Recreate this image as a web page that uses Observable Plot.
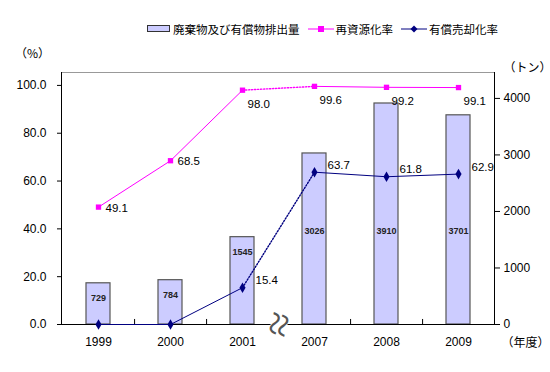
<!DOCTYPE html>
<html><head><meta charset="utf-8">
<script src="https://cdn.jsdelivr.net/npm/d3@7"></script>
<script src="https://cdn.jsdelivr.net/npm/@observablehq/plot@0.6"></script>
<style>
body{margin:0;background:#fff;}
#chart{width:550px;height:372px;position:relative;font-family:"Liberation Sans","Noto Sans CJK JP",sans-serif;}
#legend{position:absolute;top:20px;left:147px;height:18px;display:flex;align-items:center;font-family:"Noto Sans CJK JP",sans-serif;font-size:11.5px;color:#000;white-space:nowrap;}
#legend .item{display:flex;align-items:center;margin-right:8px;}
#legend svg{margin-right:2px;}
#plot{position:absolute;top:44px;left:0;}
</style></head><body>
<div id="chart"><div id="legend"></div><div id="plot"></div></div>
<script>
const years = ["1999","2000","2001","2007","2008","2009"];
const discharge = [729, 784, 1545, 3026, 3910, 3701];
const recycleRate = [49.1, 68.5, 98.0, 99.6, 99.2, 99.1];
const saleRate = [0, 0, 15.4, 63.7, 61.8, 62.9];
const leftTicks = [0, 20, 40, 60, 80, 100];
const rightTicks = [0, 1000, 2000, 3000, 4000];
const seriesNames = ["廃棄物及び有償物排出量", "再資源化率", "有償売却化率"];
const unitLeft = "（%）", unitRight = "（トン）", unitX = "（年度）";

const K = 42.3; // tons per percent (right axis vs left axis)
const rows = years.map((y, i) => ({year: y, t: discharge[i], r: recycleRate[i], s: saleRate[i]}));
const step = 433 / 6;
const magenta = "#ff00ff", navy = "#000080";

// legend
const lg = document.getElementById("legend");
lg.innerHTML = `
<span class="item"><svg width="24" height="8"><rect x="0.5" y="0.5" width="22" height="6" fill="#ccccff" stroke="#333"/></svg>${seriesNames[0]}</span>
<span class="item"><svg width="26" height="8"><line x1="0" x2="26" y1="4" y2="4" stroke="${magenta}"/><rect x="10" y="1" width="6" height="6" fill="${magenta}"/></svg>${seriesNames[1]}</span>
<span class="item"><svg width="26" height="8"><line x1="0" x2="26" y1="4" y2="4" stroke="${navy}"/><path d="M13,0.5L16.5,4L13,7.5L9.5,4Z" fill="${navy}"/></svg>${seriesNames[2]}</span>`;

const seg = (a, b) => rows.slice(a, b + 1);
const dash = "1.3 1.7";

const plot = Plot.plot({
  width: 550, height: 328,
  marginTop: 28, marginBottom: 48, marginLeft: 61, marginRight: 56,
  style: {fontFamily: '"Liberation Sans","Noto Sans CJK JP",sans-serif', fontSize: "12px", color: "#000", background: "#fff", overflow: "visible"},
  x: {type: "band", domain: years, paddingInner: 0, paddingOuter: 0},
  y: {domain: [0, 105.4]},
  marks: [
    Plot.frame({stroke: "#999"}),
    Plot.frame({anchor: "left", stroke: "#000"}),
    Plot.frame({anchor: "right", stroke: "#000"}),
    Plot.barY(rows, {x: "year", y: d => d.t / K, fill: "#ccccff", stroke: "#555", strokeWidth: 1.2, insetLeft: 24, insetRight: 24}),
    Plot.text(rows, {x: "year", y: d => Math.min(d.t - 260, 1650) / K, text: d => String(d.t), fontSize: 9, fontWeight: "bold", fill: "#222"}),
    Plot.ruleY([0], {stroke: "#000"}),
    Plot.ruleX(["1999", "2000", "2007", "2008"], {x: d => d, dx: step / 2, y1: 0, y2: 2.1, stroke: "#000"}),
    Plot.axisY({anchor: "left", ticks: leftTicks, tickFormat: d => d.toFixed(1), tickSize: 4, tickPadding: 11, label: null, fontSize: 12}),
    Plot.axisY({anchor: "right", ticks: rightTicks.map(t => t / K), tickFormat: (v, i) => String(rightTicks[i]), tickSize: 5, tickPadding: 4, label: null, fontSize: 12}),
    Plot.axisX({tickSize: 0, tickPadding: 13, label: null, fontSize: 12}),
    // break mark
    Plot.dot([0], {x: () => "2001", y: () => 0, dx: step / 2, symbol: "square", r: 4, fill: "white", stroke: "none"}),
    Plot.text(["≈"], {x: () => "2001", y: () => 0, dx: step / 2, dy: 0, rotate: 105, fontSize: 44, fontFamily: "DejaVu Sans", fontWeight: 200, fill: "#555", stroke: "white", strokeWidth: 1.5}),
    // recycle rate
    Plot.line(seg(0, 2), {x: "year", y: "r", stroke: magenta, strokeWidth: 1}),
    Plot.line(seg(2, 3), {x: "year", y: "r", stroke: magenta, strokeWidth: 1.4, strokeDasharray: dash}),
    Plot.line(seg(3, 5), {x: "year", y: "r", stroke: magenta, strokeWidth: 1}),
    Plot.dot(rows, {x: "year", y: "r", symbol: "square", r: 3, fill: magenta}),
    // sale rate
    Plot.line(seg(0, 2), {x: "year", y: "s", stroke: navy, strokeWidth: 1}),
    Plot.line(seg(2, 3), {x: "year", y: "s", stroke: navy, strokeWidth: 1.4, strokeDasharray: dash}),
    Plot.line(seg(3, 5), {x: "year", y: "s", stroke: navy, strokeWidth: 1}),
    Plot.dot(rows, {x: "year", y: "s", symbol: "diamond", r: 3.2, fill: navy}),
    // value labels
    Plot.text(rows.slice(0, 2), {x: "year", y: "r", text: d => d.r.toFixed(1), textAnchor: "start", dx: 7, dy: 1, fontSize: 11.5}),
    Plot.text(rows.slice(2), {x: "year", y: "r", text: d => d.r.toFixed(1), textAnchor: "start", dx: 5, dy: 14, fontSize: 11.5}),
    Plot.text(rows.slice(2), {x: "year", y: "s", text: d => d.s.toFixed(1), textAnchor: "start", dx: 13, dy: -7, fontSize: 11.5}),
    // units
    Plot.text([unitLeft], {frameAnchor: "top-left", dx: -29, dy: -18, textAnchor: "middle", lineAnchor: "middle", fontSize: 12, fontFamily: "Noto Sans CJK JP"}),
    Plot.text([unitRight], {frameAnchor: "top-right", dx: 33, dy: -4, textAnchor: "middle", lineAnchor: "middle", fontSize: 12, fontFamily: "Noto Sans CJK JP"}),
    Plot.text([unitX], {frameAnchor: "bottom-right", dx: 31, dy: 19, textAnchor: "middle", lineAnchor: "middle", fontSize: 12, fontFamily: "Noto Sans CJK JP"})
  ]
});
document.getElementById("plot").appendChild(plot);
</script>
</body></html>
